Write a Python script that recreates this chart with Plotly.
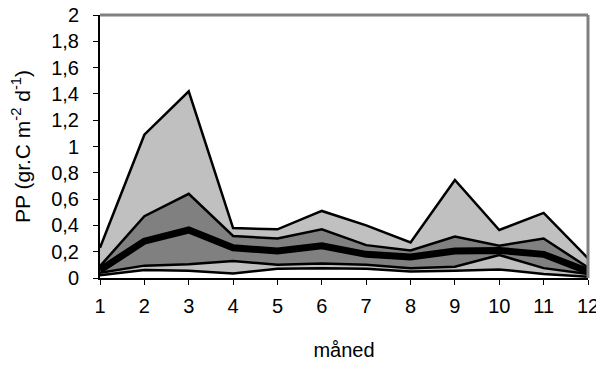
import plotly.graph_objects as go

months = [1, 2, 3, 4, 5, 6, 7, 8, 9, 10, 11, 12]
pp_max = [0.23, 1.09, 1.42, 0.38, 0.37, 0.51, 0.40, 0.27, 0.745, 0.365, 0.495, 0.15]
pp_q3 = [0.09, 0.47, 0.64, 0.32, 0.30, 0.37, 0.25, 0.21, 0.315, 0.245, 0.30, 0.08]
pp_median = [0.06, 0.28, 0.365, 0.23, 0.205, 0.245, 0.18, 0.16, 0.205, 0.21, 0.18, 0.05]
pp_q1 = [0.04, 0.094, 0.104, 0.13, 0.10, 0.11, 0.10, 0.075, 0.085, 0.175, 0.075, 0.03]
pp_min = [0.02, 0.06, 0.055, 0.035, 0.07, 0.075, 0.07, 0.05, 0.055, 0.065, 0.03, 0.01]

y_ticks = [0, 0.2, 0.4, 0.6, 0.8, 1.0, 1.2, 1.4, 1.6, 1.8, 2.0]
y_tick_labels = ["0", "0,2", "0,4", "0,6", "0,8", "1", "1,2", "1,4", "1,6", "1,8", "2"]

LIGHT = "#C0C0C0"
DARK = "#808080"

fig = go.Figure()
series = [
    (pp_max, LIGHT, 2.5),
    (pp_q3, DARK, 2.5),
    (pp_median, DARK, 7),
    (pp_q1, LIGHT, 2.5),
    (pp_min, "#FFFFFF", 2.5),
]
for vals, col, w in series:
    fig.add_trace(go.Scatter(
        x=months, y=vals, mode="lines", fill="tozeroy", fillcolor=col,
        line=dict(color="black", width=w), showlegend=False, hoverinfo="skip",
    ))

font = dict(family="Liberation Sans, Arial, sans-serif", size=20, color="black")
title_font = dict(family="Liberation Sans, Arial, sans-serif", size=21, color="black")

# page body has an 8px default margin, so the figure is 8px smaller and shifted
fig.update_layout(
    width=596, height=359,
    margin=dict(l=92, r=16, t=7, b=89),
    paper_bgcolor="white", plot_bgcolor="white",
    font=font,
    xaxis=dict(
        range=[1, 12], tickmode="array", tickvals=months,
        ticktext=[str(m) for m in months], automargin=False,
        ticklabeloverflow="allow",
        showgrid=False, zeroline=False, showline=True, linecolor="black", linewidth=2,
        ticks="outside", ticklen=5, tickcolor="black", tickwidth=1,
        ticklabelstandoff=4,
        title=dict(text="måned", font=font, standoff=27),
    ),
    yaxis=dict(
        range=[0, 2], tickmode="array", tickvals=y_ticks, ticktext=y_tick_labels,
        automargin=False, ticklabeloverflow="allow",
        showgrid=False, zeroline=False, showline=True, linecolor="black", linewidth=2,
        ticks="outside", ticklen=5, tickcolor="black", tickwidth=1,
        ticklabelstandoff=10,
        title=dict(text="PP (gr.C m<sup>-2</sup> d<sup>-1</sup>)", font=title_font, standoff=17),
    ),
    shapes=[
        dict(type="line", xref="paper", yref="paper", x0=0, x1=1, y0=1, y1=1,
             layer="above", line=dict(color="#808080", width=3)),
        dict(type="line", xref="paper", yref="paper", x0=1, x1=1, y0=0, y1=1,
             layer="above", line=dict(color="#808080", width=3)),
    ],
)

fig.write_html("out.html")
